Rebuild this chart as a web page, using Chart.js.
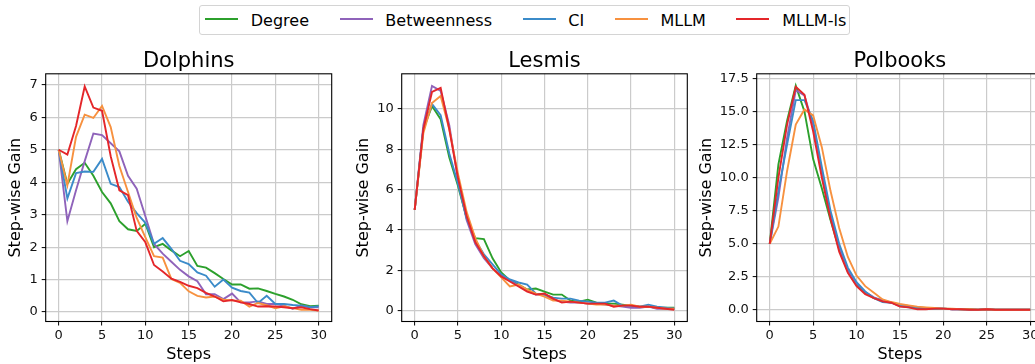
<!DOCTYPE html>
<html>
<head>
<meta charset="utf-8">
<script src="https://cdn.jsdelivr.net/npm/chart.js@4.4.1/dist/chart.umd.min.js"></script>
<style>
  html, body { margin: 0; padding: 0; background: #fff; }
  body { width: 1035px; height: 364px; overflow: hidden; position: relative; }
  canvas { position: absolute; top: 0; }
  #legend {
    position: absolute; left: 199px; top: 5px; height: 30px; box-sizing: border-box;
    border: 1px solid #d4d4d4; border-radius: 3px; background: #fff; z-index: 2;
    display: flex; align-items: center; padding: 0 3px 0 5px;
    font: 16px "DejaVu Sans", sans-serif; color: #000; white-space: nowrap;
  }
  #legend .item { display: flex; align-items: center; margin-right: 30.5px; }
  #legend .item:last-child { margin-right: 0; }
  #legend .swatch { width: 33px; height: 2px; margin-right: 12.8px; position: relative; top: -1.5px; }
</style>
</head>
<body>
<div id="legend"></div>
<canvas id="dolphins" width="345" height="364" style="left:0px"></canvas>
<canvas id="lesmis" width="345" height="364" style="left:345px"></canvas>
<canvas id="polbooks" width="370" height="364" style="left:690px"></canvas>
<script>
const FONT = '"DejaVu Sans", sans-serif';

const methods = ['Degree', 'Betweenness', 'CI', 'MLLM', 'MLLM-ls'];
const colors = ['#2ca02c', '#8f63ba', '#3b8bc9', '#f7913f', '#e4262a'];

const steps = [0, 1, 2, 3, 4, 5, 6, 7, 8, 9, 10, 11, 12, 13, 14, 15, 16, 17, 18, 19, 20,
               21, 22, 23, 24, 25, 26, 27, 28, 29, 30];
const stepTicks = [0, 5, 10, 15, 20, 25, 30];

// Dolphins
const dolphinsDegree = [5.0, 3.95, 4.4, 4.6, 4.2, 3.7, 3.35, 2.8, 2.55, 2.5, 2.72, 2.0, 2.1, 1.9, 1.72, 1.88, 1.42, 1.37, 1.2, 1.02, 0.85, 0.85, 0.72, 0.73, 0.65, 0.56, 0.48, 0.38, 0.24, 0.18, 0.2];
const dolphinsBetweenness = [5.0, 2.8, 3.75, 4.65, 5.5, 5.45, 5.2, 4.95, 4.2, 3.8, 2.95, 2.1, 1.8, 1.55, 1.3, 1.1, 0.95, 0.55, 0.55, 0.4, 0.57, 0.3, 0.3, 0.33, 0.25, 0.25, 0.2, 0.1, 0.2, 0.15, 0.15];
const dolphinsCI = [5.0, 3.5, 4.28, 4.33, 4.32, 4.72, 3.95, 3.85, 3.4, 3.05, 2.75, 2.1, 2.28, 1.95, 1.58, 1.48, 1.22, 1.12, 0.78, 1.0, 0.75, 0.65, 0.6, 0.28, 0.5, 0.25, 0.25, 0.22, 0.2, 0.15, 0.18];
const dolphinsMLLM = [5.0, 3.9, 5.4, 6.08, 5.98, 6.35, 5.7, 4.5, 3.7, 2.9, 2.3, 1.72, 1.68, 1.02, 0.9, 0.64, 0.5, 0.45, 0.48, 0.38, 0.36, 0.35, 0.17, 0.28, 0.21, 0.12, 0.18, 0.12, 0.07, 0.07, 0.05];
const dolphinsMLLMls = [5.0, 4.85, 5.73, 6.95, 6.3, 6.2, 4.8, 3.75, 3.6, 2.5, 2.15, 1.45, 1.25, 1.03, 0.93, 0.81, 0.74, 0.59, 0.48, 0.33, 0.37, 0.3, 0.25, 0.17, 0.18, 0.17, 0.15, 0.12, 0.15, 0.09, 0.05];
const dolphinsYTicks = [0, 1, 2, 3, 4, 5, 6, 7];

// Lesmis
const lesmisDegree = [5.0, 9.0, 10.15, 9.5, 7.6, 6.2, 4.6, 3.6, 3.55, 2.6, 1.9, 1.5, 1.3, 1.05, 1.1, 0.95, 0.8, 0.8, 0.5, 0.45, 0.55, 0.4, 0.35, 0.35, 0.3, 0.25, 0.2, 0.2, 0.15, 0.15, 0.15];
const lesmisBetweenness = [5.0, 9.2, 11.15, 10.9, 9.2, 6.5, 4.5, 3.3, 2.6, 2.1, 1.7, 1.5, 1.25, 1.0, 0.8, 0.8, 0.55, 0.45, 0.4, 0.4, 0.35, 0.35, 0.3, 0.25, 0.2, 0.15, 0.15, 0.2, 0.1, 0.1, 0.1];
const lesmisCI = [5.0, 9.0, 10.25, 9.7, 7.8, 6.3, 4.6, 3.5, 2.8, 2.3, 1.8, 1.55, 1.4, 1.3, 0.85, 0.8, 0.65, 0.6, 0.6, 0.5, 0.45, 0.4, 0.4, 0.5, 0.25, 0.25, 0.2, 0.3, 0.2, 0.15, 0.1];
const lesmisMLLM = [5.0, 8.8, 10.3, 10.65, 9.0, 6.8, 4.9, 3.6, 2.7, 2.1, 1.65, 1.2, 1.3, 1.05, 0.85, 0.7, 0.5, 0.5, 0.45, 0.4, 0.35, 0.3, 0.3, 0.25, 0.25, 0.3, 0.2, 0.2, 0.15, 0.1, 0.1];
const lesmisMLLMls = [5.0, 9.0, 10.85, 11.05, 9.0, 6.6, 4.7, 3.4, 2.7, 2.1, 1.7, 1.45, 1.2, 0.95, 0.8, 0.85, 0.6, 0.4, 0.45, 0.4, 0.35, 0.35, 0.35, 0.2, 0.25, 0.25, 0.2, 0.2, 0.15, 0.1, 0.05];
const lesmisYTicks = [0, 2, 4, 6, 8, 10];

// Polbooks
const polbooksDegree = [5.0, 11.0, 14.3, 16.95, 15.0, 11.4, 9.2, 6.8, 4.6, 2.9, 1.9, 1.3, 0.9, 0.75, 0.55, 0.4, 0.3, 0.2, 0.15, 0.1, 0.1, 0.08, 0.05, 0.05, 0.03, 0.05, 0.02, 0.02, 0.02, 0.02, 0.02];
const polbooksBetweenness = [5.0, 8.5, 13.0, 16.6, 16.2, 14.0, 10.5, 7.2, 4.8, 3.0, 2.0, 1.35, 0.95, 0.7, 0.55, 0.35, 0.25, 0.15, 0.1, 0.15, 0.1, 0.05, 0.05, 0.03, 0.03, 0.05, 0.02, 0.02, 0.02, 0.02, 0.02];
const polbooksCI = [5.0, 9.0, 12.5, 15.85, 15.85, 14.3, 10.8, 7.5, 5.0, 3.2, 2.1, 1.4, 0.9, 0.6, 0.55, 0.3, 0.2, 0.15, 0.15, 0.1, 0.1, 0.05, 0.05, 0.03, 0.03, 0.05, 0.02, 0.02, 0.02, 0.02, 0.02];
const polbooksMLLM = [5.0, 6.3, 10.5, 14.0, 15.15, 14.7, 12.3, 9.0, 6.2, 4.0, 2.6, 1.8, 1.3, 0.8, 0.6, 0.45, 0.35, 0.25, 0.2, 0.15, 0.1, 0.1, 0.05, 0.05, 0.03, 0.05, 0.02, 0.02, 0.02, 0.02, 0.02];
const polbooksMLLMls = [5.0, 10.0, 14.0, 16.85, 16.25, 13.5, 10.0, 6.9, 4.4, 2.8, 1.8, 1.2, 0.9, 0.65, 0.55, 0.25, 0.2, 0.05, 0.05, 0.1, 0.1, 0.05, 0.05, 0.02, 0.02, 0.05, 0.02, 0.02, 0.02, 0.02, 0.02];
const polbooksYTicks = [0, 2.5, 5, 7.5, 10, 12.5, 15, 17.5];

// legend row
document.getElementById('legend').innerHTML = methods.map((m, i) =>
  `<div class="item"><span class="swatch" style="background:${colors[i]}"></span><span>${m}</span></div>`
).join('');

// black frame round the plot area + title centred over it
const panelDecor = {
  id: 'panelDecor',
  afterDatasetsDraw(chart) {
    const { ctx, chartArea: a } = chart;
    ctx.save();
    ctx.strokeStyle = '#000';
    ctx.lineWidth = 1.1;
    ctx.strokeRect(a.left, a.top, a.right - a.left, a.bottom - a.top);
    ctx.restore();
  },
  afterDraw(chart, args, opts) {
    const { ctx, chartArea: a } = chart;
    ctx.save();
    ctx.fillStyle = '#000';
    ctx.font = `21px ${FONT}`;
    ctx.textAlign = 'center';
    ctx.textBaseline = 'alphabetic';
    ctx.fillText(opts.text, (a.left + a.right) / 2, 66.8);
    ctx.restore();
  }
};

const GRID = '#cbcbcb';

function drawPanel(id, cfg) {
  const series = cfg.series;
  new Chart(document.getElementById(id), {
    type: 'line',
    data: {
      datasets: methods.map((m, i) => ({
        label: m,
        data: steps.map((s, k) => ({ x: s, y: series[i][k] })),
        borderColor: colors[i],
        backgroundColor: colors[i],
        borderWidth: 1.9,
        pointRadius: 0,
        tension: 0,
        order: methods.length - i
      }))
    },
    options: {
      responsive: false,
      animation: false,
      devicePixelRatio: 1,
      layout: { padding: { top: 73.8, right: cfg.padRight, bottom: 0, left: 0 } },
      plugins: {
        legend: { display: false },
        tooltip: { enabled: false },
        panelDecor: { text: cfg.title }
      },
      scales: {
        x: {
          type: 'linear',
          min: -1.5,
          max: 31.5,
          afterBuildTicks: s => { s.ticks = stepTicks.map(v => ({ value: v })); },
          afterFit: s => { s.height = 42.5; },
          border: { display: false },
          grid: { color: GRID, lineWidth: 1.2, tickColor: '#000', tickLength: 4, tickWidth: 1 },
          ticks: { color: '#111', autoSkip: false, maxRotation: 0, padding: 2.4,
                   font: { family: FONT, size: 13, lineHeight: 1.2 },
                   callback: v => String(v) },
          title: { display: true, text: 'Steps', color: '#000',
                   font: { family: FONT, size: 16, lineHeight: 1.2 }, padding: { top: 0, bottom: 0 } }
        },
        y: {
          type: 'linear',
          min: cfg.yMin,
          max: cfg.yMax,
          afterBuildTicks: s => { s.ticks = cfg.yTicks.map(v => ({ value: v })); },
          afterFit: s => { s.width = cfg.yWidth; },
          border: { display: false },
          grid: { color: GRID, lineWidth: 1.2, tickColor: '#000', tickLength: 4, tickWidth: 1 },
          ticks: { color: '#111', autoSkip: false, padding: 4,
                   font: { family: FONT, size: 13, lineHeight: 1.2 },
                   callback: v => cfg.decimals ? v.toFixed(cfg.decimals) : String(v) },
          title: { display: true, text: 'Step-wise Gain', color: '#000',
                   font: { family: FONT, size: 16, lineHeight: 1.2 }, padding: { top: cfg.yTitlePad, bottom: 0 } }
        }
      }
    },
    plugins: [panelDecor]
  });
}

drawPanel('dolphins', {
  title: 'Dolphins',
  series: [dolphinsDegree, dolphinsBetweenness, dolphinsCI, dolphinsMLLM, dolphinsMLLMls],
  yTicks: dolphinsYTicks, yMin: -0.29, yMax: 7.34, decimals: 0,
  yWidth: 45.7, yTitlePad: 6.5, padRight: 13.3
});

drawPanel('lesmis', {
  title: 'Lesmis',
  series: [lesmisDegree, lesmisBetweenness, lesmisCI, lesmisMLLM, lesmisMLLMls],
  yTicks: lesmisYTicks, yMin: -0.535, yMax: 11.75, decimals: 0,
  yWidth: 56.7, yTitlePad: 9.2, padRight: 2.7
});

drawPanel('polbooks', {
  title: 'Polbooks',
  series: [polbooksDegree, polbooksBetweenness, polbooksCI, polbooksMLLM, polbooksMLLMls],
  yTicks: polbooksYTicks, yMin: -0.87, yMax: 17.84, decimals: 1,
  yWidth: 66.7, yTitlePad: 7, padRight: 16.8
});
</script>
</body>
</html>
